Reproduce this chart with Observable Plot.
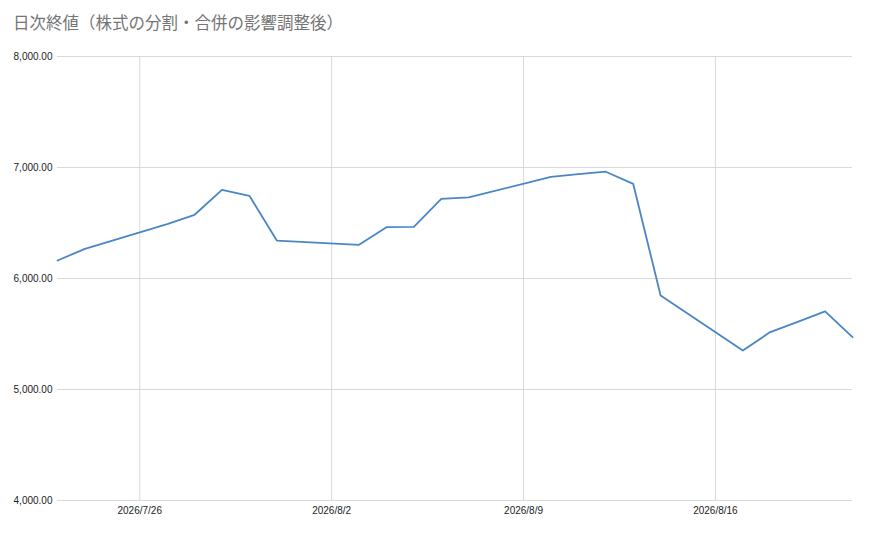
<!DOCTYPE html>
<html>
<head>
<meta charset="utf-8">
<script src="https://cdn.jsdelivr.net/npm/d3@7"></script>
<script src="https://cdn.jsdelivr.net/npm/@observablehq/plot@0.6"></script>
<style>
  body { margin: 0; background: #fff; }
  #title { height: 40px; box-sizing: border-box; padding: 12px 0 0 13px; font-family: "Noto Sans CJK JP", "Noto Sans", sans-serif; font-size: 16.5px; line-height: 20px; color: #757575; }
  #chart svg { display: block; }
</style>
</head>
<body>
<div id="title">日次終値（株式の分割・合併の影響調整後）</div>
<div id="chart"></div>
<script>
const titleText = "日次終値（株式の分割・合併の影響調整後）";
const dates = ["2026-07-23","2026-07-24","2026-07-27","2026-07-28","2026-07-29","2026-07-30","2026-07-31",
  "2026-08-03","2026-08-04","2026-08-05","2026-08-06","2026-08-07",
  "2026-08-10","2026-08-11","2026-08-12","2026-08-13","2026-08-14",
  "2026-08-17","2026-08-18","2026-08-19","2026-08-20","2026-08-21"];
const closes = [6162, 6267, 6490, 6574, 6799, 6745, 6342,
  6303, 6462, 6465, 6718, 6730,
  6915, 6940, 6962, 6853, 5847,
  5351, 5517, 5610, 5703, 5471];
const xTicks = ["2026-07-26", "2026-08-02", "2026-08-09", "2026-08-16"];
const yTicks = [4000, 5000, 6000, 7000, 8000];
const xDomain = ["2026-07-23", "2026-08-21"];

const parse = d3.utcParse("%Y-%m-%d");
const data = dates.map((d, i) => ({date: parse(d), close: closes[i]}));
const xTickDates = xTicks.map(parse);
const fmtY = d3.format(",.2f");
const fmtX = d => `${d.getUTCFullYear()}/${d.getUTCMonth() + 1}/${d.getUTCDate()}`;

document.getElementById("title").textContent = titleText;

const chart = Plot.plot({
  width: 870,
  height: 493,
  marginTop: 16,
  marginBottom: 33,
  marginLeft: 57,
  marginRight: 18,
  style: {fontFamily: "Arial, 'Liberation Sans', sans-serif", fontSize: "10px", color: "#222"},
  x: {type: "utc", domain: xDomain.map(parse)},
  y: {domain: [4000, 8000]},
  marks: [
    Plot.gridX(xTickDates, {stroke: "#d9d9d9", strokeOpacity: 1, strokeWidth: 1}),
    Plot.gridY(yTicks, {stroke: "#d9d9d9", strokeOpacity: 1, strokeWidth: 1}),
    Plot.axisY(yTicks, {tickFormat: fmtY, tickSize: 0, tickPadding: 5, label: null, fill: "#222"}),
    Plot.axisX(xTickDates, {tickFormat: fmtX, tickSize: 0, tickPadding: 6, label: null, fill: "#222"}),
    Plot.line(data, {x: "date", y: "close", stroke: "#4a86c5", strokeWidth: 1.8})
  ]
});
document.getElementById("chart").appendChild(chart);
</script>
</body>
</html>
